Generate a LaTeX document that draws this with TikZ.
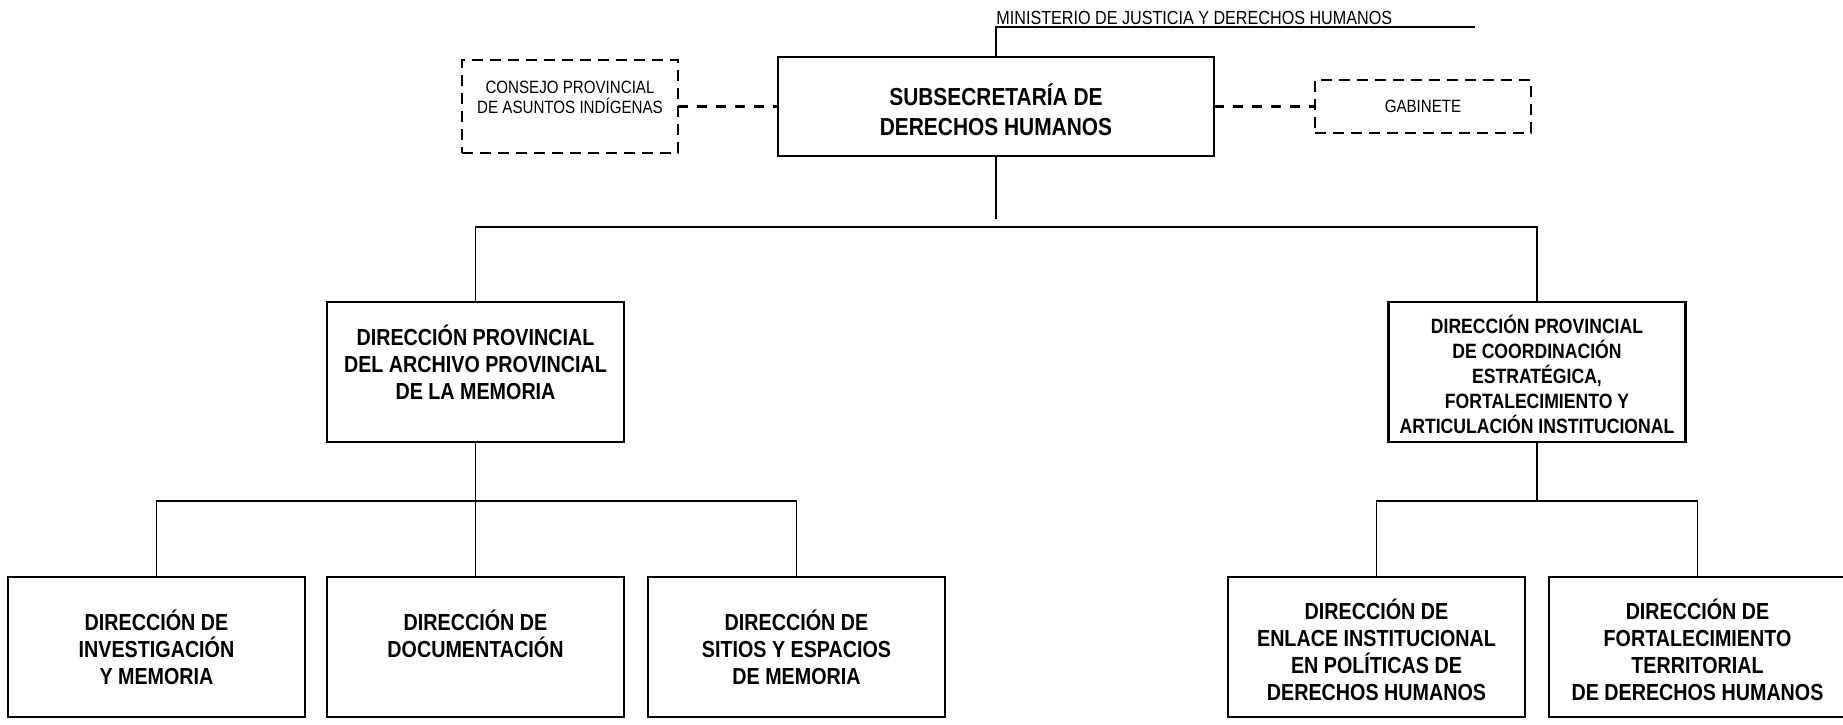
\documentclass[tikz,border=0pt]{standalone}
\usepackage{fontspec}
\setmainfont{Liberation Sans}[FakeStretch=0.85]
\usetikzlibrary{positioning}

\begin{document}
\begin{tikzpicture}[x=0.5pt,y=-0.5pt]
    \tikzstyle{unit} = [draw,rectangle,line width=1.4pt,outer sep=0pt,inner sep=2pt,align=center,minimum width=148.5pt,minimum height=70pt,font=\bfseries\fontsize{11.6}{13.5}\selectfont]
    \tikzstyle{head} = [unit,minimum width=218pt,minimum height=49.5pt,font=\bfseries\fontsize{12.3}{15}\selectfont]
    \tikzstyle{aside} = [draw,rectangle,line width=1.2pt,dash pattern=on 5.5pt off 3.5pt,outer sep=0pt,align=center,minimum width=108pt,font=\fontsize{8.9}{10}\selectfont]
    \tikzstyle{link} = [line width=0.6pt]
    \tikzstyle{dashlink} = [line width=1.2pt,dash pattern=on 5pt off 4.5pt]
    \tikzstyle{mylabel} = [inner xsep=0pt,inner ysep=1pt,font=\fontsize{9.5}{11}\selectfont]
    \useasboundingbox (0,0) rectangle (1843,724);
    % top level
    \node[head] (sub) at (996,106.5) {SUBSECRETARÍA DE\\DERECHOS HUMANOS\\[-18.3pt]};
    \node[aside,minimum height=46.5pt] (cons) [left = 50pt of sub] {CONSEJO PROVINCIAL\\DE ASUNTOS INDÍGENAS\\[-0.5pt]};
    \node[aside,minimum height=26.5pt] (gab) [right = 50.5pt of sub] {GABINETE};
    \node[mylabel,anchor=south west] (min) at (996,27) {MINISTERIO DE JUSTICIA Y DERECHOS HUMANOS};
    \coordinate (minend) at (1475,27);
    \draw[link] (sub) -- (min.south west) -- (minend);
    \draw[dashlink] (cons) -- (sub);
    \draw[dashlink] (sub) -- (gab);
    % provincial directorates
    \node[unit] (dp1) at (475.5,372) {DIRECCIÓN PROVINCIAL\\DEL ARCHIVO PROVINCIAL\\DE LA MEMORIA\\[-3.9pt]};
    \node[unit,font=\bfseries\fontsize{10.35}{12.5}\selectfont] (dp2) at (1537,372) {DIRECCIÓN PROVINCIAL\\DE COORDINACIÓN\\ESTRATÉGICA,\\FORTALECIMIENTO Y\\ARTICULACIÓN INSTITUCIONAL\\[-14.5pt]};
    \coordinate[below = 31.5pt of sub] (j0);
    \coordinate[below = 35.5pt of sub] (bar);
    \draw[link] (sub) -- (j0);
    \draw[link] (dp1) |- (bar) -| (dp2);
    % directorates
    \node[unit] (dirB) [below = 67.5pt of dp1] {DIRECCIÓN DE\\DOCUMENTACIÓN\\[-0.5pt]};
    \node[unit] (dirA) [left = 11pt of dirB] {DIRECCIÓN DE\\INVESTIGACIÓN\\Y MEMORIA};
    \node[unit] (dirC) [right = 12pt of dirB] {DIRECCIÓN DE\\SITIOS Y ESPACIOS\\DE MEMORIA};
    \node[unit] (dirD) at (1376.5,647) {DIRECCIÓN DE\\ENLACE INSTITUCIONAL\\EN POLÍTICAS DE\\DERECHOS HUMANOS\\[-16.5pt]};
    \node[unit] (dirE) [right = 12pt of dirD] {DIRECCIÓN DE\\FORTALECIMIENTO\\TERRITORIAL\\DE DERECHOS HUMANOS\\[-16.5pt]};
    \coordinate[below = 29.5pt of dp1] (j1);
    \coordinate[below = 29.5pt of dp2] (j2);
    \draw[link] (dp1) -- (j1) -| (dirA);
    \draw[link] (j1) -- (dirB);
    \draw[link] (j1) -| (dirC);
    \draw[link] (dp2) -- (j2) -| (dirD);
    \draw[link] (j2) -| (dirE);
\end{tikzpicture}
\end{document}
